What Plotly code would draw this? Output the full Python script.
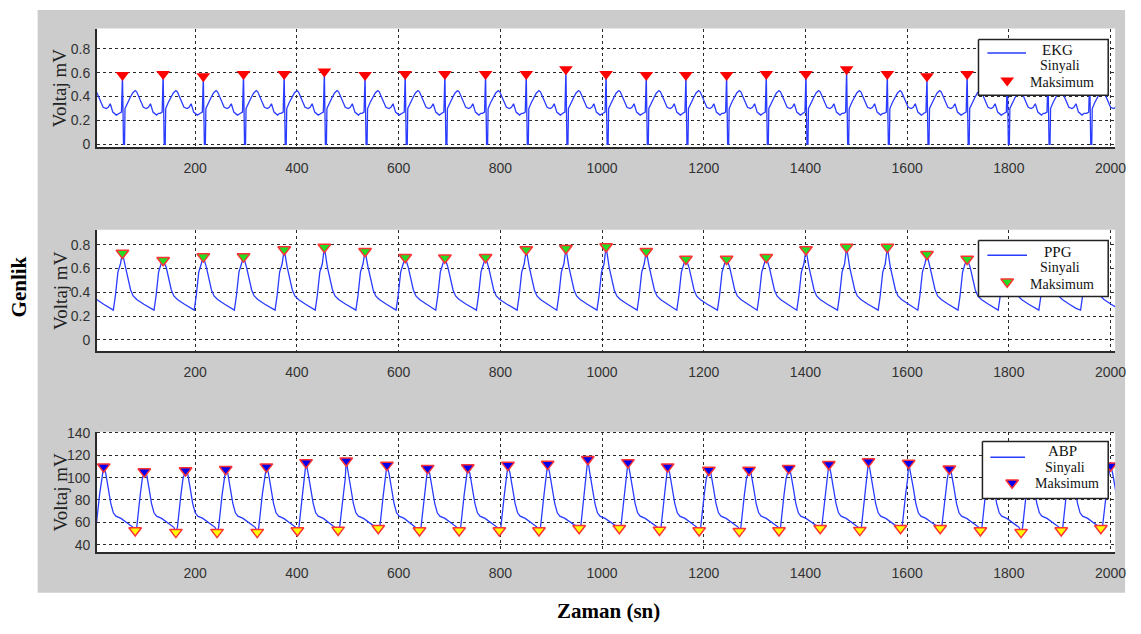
import plotly.graph_objects as go

W, H = 1141, 634

# ---------------- data ----------------
# EKG: R-wave sample positions and the plotted maximum of each beat (mV)
ekg_r_locs = [57, 137, 216, 295, 375, 454, 534, 613, 691, 771, 851, 929, 1008,
              1087, 1165, 1245, 1323, 1401, 1481, 1561, 1639, 1718, 1797, 1877, 1959]
ekg_r_vals = [0.58, 0.59, 0.57, 0.59, 0.59, 0.61, 0.58, 0.59, 0.59, 0.59, 0.59, 0.63, 0.59,
              0.58, 0.58, 0.58, 0.59, 0.59, 0.63, 0.59, 0.57, 0.59, 0.58, 0.58, 0.58]
ekg_prev_beat = (-22, 0.58)
# one EKG beat around its R wave: (offset in samples, mV)
ekg_pre_r = [(-6, 0.26), (-2, 0.27)]
ekg_post_r = [(2, 0.0), (4, 0.0), (5, 0.30), (10, 0.35), (15, 0.39), (20, 0.43), (25, 0.45),
              (28, 0.44), (31, 0.41), (35, 0.37), (41, 0.31), (47, 0.30), (51, 0.31),
              (55, 0.34), (60, 0.27), (67, 0.245), (71, 0.26)]

# PPG: systolic peak positions and values (mV)
ppg_peak_locs = [57, 137, 216, 295, 375, 454, 534, 613, 691, 771, 851, 929, 1008,
                 1087, 1165, 1245, 1323, 1401, 1481, 1561, 1639, 1718, 1797, 1877, 1959]
ppg_peak_vals = [0.73, 0.67, 0.70, 0.70, 0.76, 0.78, 0.745, 0.695, 0.69, 0.695, 0.76, 0.77, 0.785,
                 0.745, 0.68, 0.68, 0.695, 0.76, 0.78, 0.78, 0.72, 0.68, 0.72, 0.72, 0.72]
ppg_prev_beat = (-22, 0.72)
ppg_pre_peak = [(-18, 0.25), (-14, 0.37), (-9, 0.57), (-4, 0.64)]
ppg_post_peak = [(6, 0.61), (12, 0.50), (16, 0.42), (21, 0.37), (28, 0.34), (42, 0.30), (55, 0.265)]

# ABP: systolic maxima and diastolic minima (mmHg)
abp_max_locs = [20, 100, 181, 260, 340, 418, 497, 577, 657, 736, 815, 893, 972,
                1051, 1129, 1210, 1289, 1367, 1446, 1524, 1603, 1683, 1762, 1841, 1921, 2000]
abp_max_vals = [109.8, 105.4, 106.3, 107.4, 109.8, 113.6, 115.1, 111.2, 108.3, 109.0, 111.2, 112.1, 116.5,
                113.6, 109.8, 106.8, 106.8, 108.3, 112.0, 114.5, 113.0, 108.0, 110.0, 110.0, 110.0, 110.7]
abp_min_locs = [82, 162, 243, 322, 401, 481, 560, 641, 719, 798, 876, 955, 1034,
                1113, 1191, 1270, 1348, 1429, 1507, 1587, 1665, 1744, 1824, 1903, 1981]
abp_min_vals = [52.7, 51.2, 51.2, 51.2, 52.7, 53.2, 54.7, 52.7, 52.7, 52.7, 52.7, 54.7, 54.7,
                53.2, 52.7, 52.1, 52.7, 54.7, 53.0, 54.7, 54.7, 52.7, 51.2, 52.7, 54.7]
abp_lead_min = (2, 53.0)
abp_rise = [(3, 55.5), (10, 85.0), (14, 99.0)]
abp_fall = [(4, 104.0), (9, 91.0), (14, 77.0), (19, 68.5), (24, 65.5), (34, 63.5),
            (43, 60.5), (52, 57.5), (58, 55.5)]

x_ticks = [200, 400, 600, 800, 1000, 1200, 1400, 1600, 1800, 2000]
mv_ticks = [0, 0.2, 0.4, 0.6, 0.8]
mv_labels = ["0", "0.2", "0.4", "0.6", "0.8"]
abp_ticks = [40, 60, 80, 100, 120, 140]


def beat_series(locs, vals, pre, post):
    xs, ys = [], []
    for loc, val in zip(locs, vals):
        for off, v in pre:
            xs.append(loc + off)
            ys.append(v)
        xs.append(loc)
        ys.append(val)
        for off, v in post:
            xs.append(loc + off)
            ys.append(v)
    return xs, ys


ekg_x, ekg_y = beat_series([ekg_prev_beat[0]] + ekg_r_locs, [ekg_prev_beat[1]] + ekg_r_vals,
                           ekg_pre_r, ekg_post_r)
ppg_x, ppg_y = beat_series([ppg_prev_beat[0]] + ppg_peak_locs, [ppg_prev_beat[1]] + ppg_peak_vals,
                           ppg_pre_peak, ppg_post_peak)

abp_x, abp_y = [], []
minima = [abp_lead_min] + list(zip(abp_min_locs, abp_min_vals))
for (m, mv), p, pv in zip(minima, abp_max_locs, abp_max_vals):
    abp_x.append(m)
    abp_y.append(mv)
    for off, v in abp_rise:
        abp_x.append(m + off)
        abp_y.append(v)
    abp_x.append(p)
    abp_y.append(pv)
    for off, v in abp_fall:
        abp_x.append(p + off)
        abp_y.append(v)

# ---------------- styling ----------------
LINE_BLUE = "#2a3cff"
TICK_FONT = dict(family="Liberation Sans, Arial", size=14, color="#333333")
SERIF = "Liberation Serif, Times New Roman, serif"

fig = go.Figure()

fig.add_trace(go.Scatter(x=ekg_x, y=ekg_y, mode="lines", line=dict(color=LINE_BLUE, width=1.3),
                         xaxis="x", yaxis="y"))
fig.add_trace(go.Scatter(x=ekg_r_locs, y=ekg_r_vals, mode="markers",
                         marker=dict(symbol="triangle-down", size=12, color="#ff0000",
                                     line=dict(width=0)), xaxis="x", yaxis="y"))

fig.add_trace(go.Scatter(x=ppg_x, y=ppg_y, mode="lines", line=dict(color=LINE_BLUE, width=1.3),
                         xaxis="x2", yaxis="y2"))
fig.add_trace(go.Scatter(x=ppg_peak_locs, y=ppg_peak_vals, mode="markers",
                         marker=dict(symbol="triangle-down", size=11, color="#22dd22",
                                     line=dict(width=1.5, color="#ff3333")), xaxis="x2", yaxis="y2"))

fig.add_trace(go.Scatter(x=abp_x, y=abp_y, mode="lines", line=dict(color=LINE_BLUE, width=1.3),
                         xaxis="x3", yaxis="y3"))
fig.add_trace(go.Scatter(x=abp_max_locs, y=abp_max_vals, mode="markers",
                         marker=dict(symbol="triangle-down", size=11, color="#0000ee",
                                     line=dict(width=1.5, color="#ff3333")), xaxis="x3", yaxis="y3"))
fig.add_trace(go.Scatter(x=abp_min_locs, y=abp_min_vals, mode="markers",
                         marker=dict(symbol="triangle-down", size=11, color="#ffff00",
                                     line=dict(width=1.5, color="#ff3333")), xaxis="x3", yaxis="y3"))

# ---------------- panel geometry (pixels) ----------------
plot_left, plot_right = 98, 1126
panels = [(22, 143), (227, 351), (433, 556)]  # top/bottom pixel rows of each axes box


def px_x(v):
    return v / W


def px_y(v):
    return 1 - v / H


grid = dict(showgrid=True, gridcolor="#2b2b2b", griddash="3px,3px", gridwidth=1.2)
xaxis_common = dict(range=[7, 2009], tickvals=x_ticks, showline=True, linecolor="#2b2b2b",
                    linewidth=2, ticks="", tickfont=TICK_FONT, zeroline=False,
                    ticklabelstandoff=7, domain=[px_x(plot_left), px_x(plot_right)], **grid)
yaxis_common = dict(showline=True, linecolor="#2b2b2b", linewidth=2, ticks="", tickfont=TICK_FONT,
                    zeroline=False, ticklabelstandoff=2, **grid)

layout = dict(
    width=W, height=H, margin=dict(l=0, r=0, t=0, b=0),
    paper_bgcolor="white", plot_bgcolor="rgba(0,0,0,0)", showlegend=False, hovermode=False,
    xaxis=dict(anchor="y", **xaxis_common),
    xaxis2=dict(anchor="y2", **xaxis_common),
    xaxis3=dict(anchor="y3", **xaxis_common),
    yaxis=dict(anchor="x", range=[-0.025, 0.97], tickvals=mv_ticks, ticktext=mv_labels,
               domain=[px_y(panels[0][1]), px_y(panels[0][0])], **yaxis_common),
    yaxis2=dict(anchor="x2", range=[-0.096, 0.926], tickvals=mv_ticks, ticktext=mv_labels,
                domain=[px_y(panels[1][1]), px_y(panels[1][0])], **yaxis_common),
    yaxis3=dict(anchor="x3", range=[33, 141], tickvals=abp_ticks,
                domain=[px_y(panels[2][1]), px_y(panels[2][0])], **yaxis_common),
    # pixel-space overlay used for the in-plot legend boxes
    xaxis4=dict(domain=[0, 1], range=[0, W], visible=False, anchor="y4", fixedrange=True),
    yaxis4=dict(domain=[0, 1], range=[H, 0], visible=False, anchor="x4", fixedrange=True),
)
fig.update_layout(**layout)

# grey figure background and white axes areas
shapes = [dict(type="rect", xref="paper", yref="paper", x0=px_x(38), x1=px_x(1136),
               y0=px_y(597), y1=px_y(3), fillcolor="#cccccc", line=dict(width=0), layer="below")]
for top, bottom in panels:
    shapes.append(dict(type="rect", xref="paper", yref="paper", x0=px_x(plot_left), x1=px_x(plot_right),
                       y0=px_y(bottom), y1=px_y(top), fillcolor="white", line=dict(width=0),
                       layer="below"))
fig.update_layout(shapes=shapes)

annotations = []
for top, bottom in panels:
    annotations.append(dict(text="Voltaj mV", xref="paper", yref="paper", x=px_x(61),
                            y=px_y((top + bottom) / 2), textangle=-90, showarrow=False,
                            xanchor="center", yanchor="middle",
                            font=dict(family=SERIF, size=19, color="#222222")))
annotations.append(dict(text="<b>Genlik</b>", xref="paper", yref="paper", x=px_x(19), y=px_y(285),
                        textangle=-90, showarrow=False, xanchor="center", yanchor="middle",
                        font=dict(family=SERIF, size=21, color="black")))
annotations.append(dict(text="<b>Zaman (sn)</b>", xref="paper", yref="paper", x=px_x(614), y=px_y(616),
                        showarrow=False, xanchor="center", yanchor="middle",
                        font=dict(family=SERIF, size=21, color="black")))

# legend boxes: (box x0, y0, x1, y1, line y, line x0, x1, marker x, marker y, title, title x, title y,
#                marker fill, marker edge, marker size)
legends = [
    (988, 33, 1119, 90, 47, 997, 1036, 1017, 75, "EKG", 1068, 44, "#ff0000", "#ff0000", 12),
    (988, 238, 1119, 295, 253, 997, 1037, 1017, 280, "PPG", 1068, 250, "#22dd22", "#ff3333", 11),
    (992, 443, 1119, 501, 459, 1000, 1035, 1022, 485, "ABP", 1073, 453, "#0000ee", "#ff3333", 11),
]
for (bx0, by0, bx1, by1, ly, lx0, lx1, mx, my, title, tx, ty, mfill, medge, msize) in legends:
    fig.add_trace(go.Scatter(x=[bx0, bx1, bx1, bx0, bx0], y=[by0, by0, by1, by1, by0], mode="lines",
                             fill="toself", fillcolor="white", line=dict(color="#222222", width=1.5),
                             xaxis="x4", yaxis="y4"))
    fig.add_trace(go.Scatter(x=[lx0, lx1], y=[ly, ly], mode="lines",
                             line=dict(color=LINE_BLUE, width=1.5), xaxis="x4", yaxis="y4"))
    fig.add_trace(go.Scatter(x=[mx], y=[my], mode="markers",
                             marker=dict(symbol="triangle-down", size=msize, color=mfill,
                                         line=dict(width=0 if mfill == medge else 1.5, color=medge)),
                             xaxis="x4", yaxis="y4"))
    for text, x, y, size in [(title, tx, ty, 15), ("Sinyali", tx + 2, ty + 16, 14),
                             ("Maksimum", tx + 4, ty + 33, 14)]:
        annotations.append(dict(text=text, xref="x4", yref="y4", x=x, y=y, showarrow=False,
                                xanchor="center", yanchor="middle",
                                font=dict(family=SERIF, size=size, color="#111111")))

fig.update_layout(annotations=annotations)

fig.write_html("out.html")
